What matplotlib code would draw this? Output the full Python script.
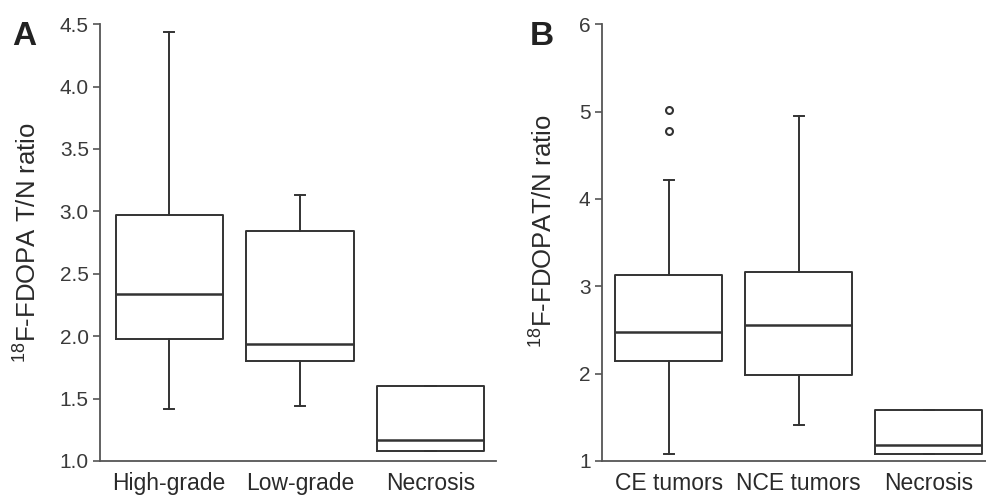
import matplotlib.pyplot as plt
import numpy as np

plt.rcParams['font.family'] = ['Liberation Sans', 'DejaVu Sans']
plt.rcParams['mathtext.fontset'] = 'custom'
plt.rcParams['mathtext.rm'] = 'Liberation Sans'

# Panel A: grade
grupos_a = ["High-grade", "Low-grade", "Necrosis"]
minimo_a = [1.42, 1.44, 1.08]
q1_a = [1.98, 1.80, 1.08]
mediana_a = [2.34, 1.94, 1.17]
q3_a = [2.97, 2.84, 1.60]
maximo_a = [4.44, 3.13, 1.60]
outliers_a = [[], [], []]

# Panel B: enhancement
grupos_b = ["CE tumors", "NCE tumors", "Necrosis"]
minimo_b = [1.08, 1.41, 1.08]
q1_b = [2.15, 1.99, 1.08]
mediana_b = [2.48, 2.56, 1.18]
q3_b = [3.13, 3.16, 1.58]
maximo_b = [4.22, 4.95, 1.58]
outliers_b = [[5.02, 4.78], [], []]

ticks_a = [1.0, 1.5, 2.0, 2.5, 3.0, 3.5, 4.0, 4.5]
ticks_b = [1, 2, 3, 4, 5, 6]

gris = "#333333"


def estadisticas(grupos, lo, q1, med, q3, hi, fl):
    stats = []
    for i in range(len(grupos)):
        stats.append(dict(label=grupos[i], whislo=lo[i], q1=q1[i], med=med[i],
                          q3=q3[i], whishi=hi[i], fliers=fl[i]))
    return stats


def caja(ax, stats, ticks, xlim, ylabel, fmt):
    ax.bxp(stats, positions=[1, 2, 3], widths=0.82, capwidths=0.08,
           showfliers=True,
           boxprops=dict(color=gris, linewidth=1.4),
           medianprops=dict(color=gris, linewidth=1.8),
           whiskerprops=dict(color=gris, linewidth=1.4),
           capprops=dict(color=gris, linewidth=1.4),
           flierprops=dict(marker="o", markersize=5, markerfacecolor="white",
                           markeredgecolor=gris, markeredgewidth=1.5))
    ax.set_xlim(xlim)
    ax.set_ylim(ticks[0], ticks[-1])
    ax.set_yticks(ticks)
    ax.set_yticklabels([fmt % t for t in ticks])
    for s in ["top", "right"]:
        ax.spines[s].set_visible(False)
    for s in ["left", "bottom"]:
        ax.spines[s].set_color("#555555")
        ax.spines[s].set_linewidth(1.3)
    ax.tick_params(axis="y", direction="out", length=5, width=1.2, color="#555555",
                   labelsize=15, labelcolor="#3a3a3a", pad=3)
    ax.tick_params(axis="x", length=0, labelsize=16.5, labelcolor="#2a2a2a", pad=8)
    ax.set_ylabel(ylabel, fontsize=18.5, color="#2a2a2a")


fig = plt.figure(figsize=(9.87, 5.03), dpi=100)
axA = fig.add_axes([0.1013, 0.0835, 0.4012, 0.8685])
axB = fig.add_axes([0.6096, 0.0835, 0.3894, 0.8685])

caja(axA, estadisticas(grupos_a, minimo_a, q1_a, mediana_a, q3_a, maximo_a, outliers_a),
     ticks_a, (0.47, 3.5), r"$^{18}$F-FDOPA T/N ratio", "%.1f")
caja(axB, estadisticas(grupos_b, minimo_b, q1_b, mediana_b, q3_b, maximo_b, outliers_b),
     ticks_b, (0.484, 3.44), r"$^{18}$F-FDOPAT/N ratio", "%d")

axA.yaxis.set_label_coords(-0.15, 0.50)
axB.yaxis.set_label_coords(-0.116, 0.526)

fig.text(12 / 987, 1 - 45 / 503, "A", fontsize=24, fontweight="bold", color="#222222")
fig.text(530 / 987, 1 - 45 / 503, "B", fontsize=24, fontweight="bold", color="#222222")

fig.savefig("out.png", dpi=100)
